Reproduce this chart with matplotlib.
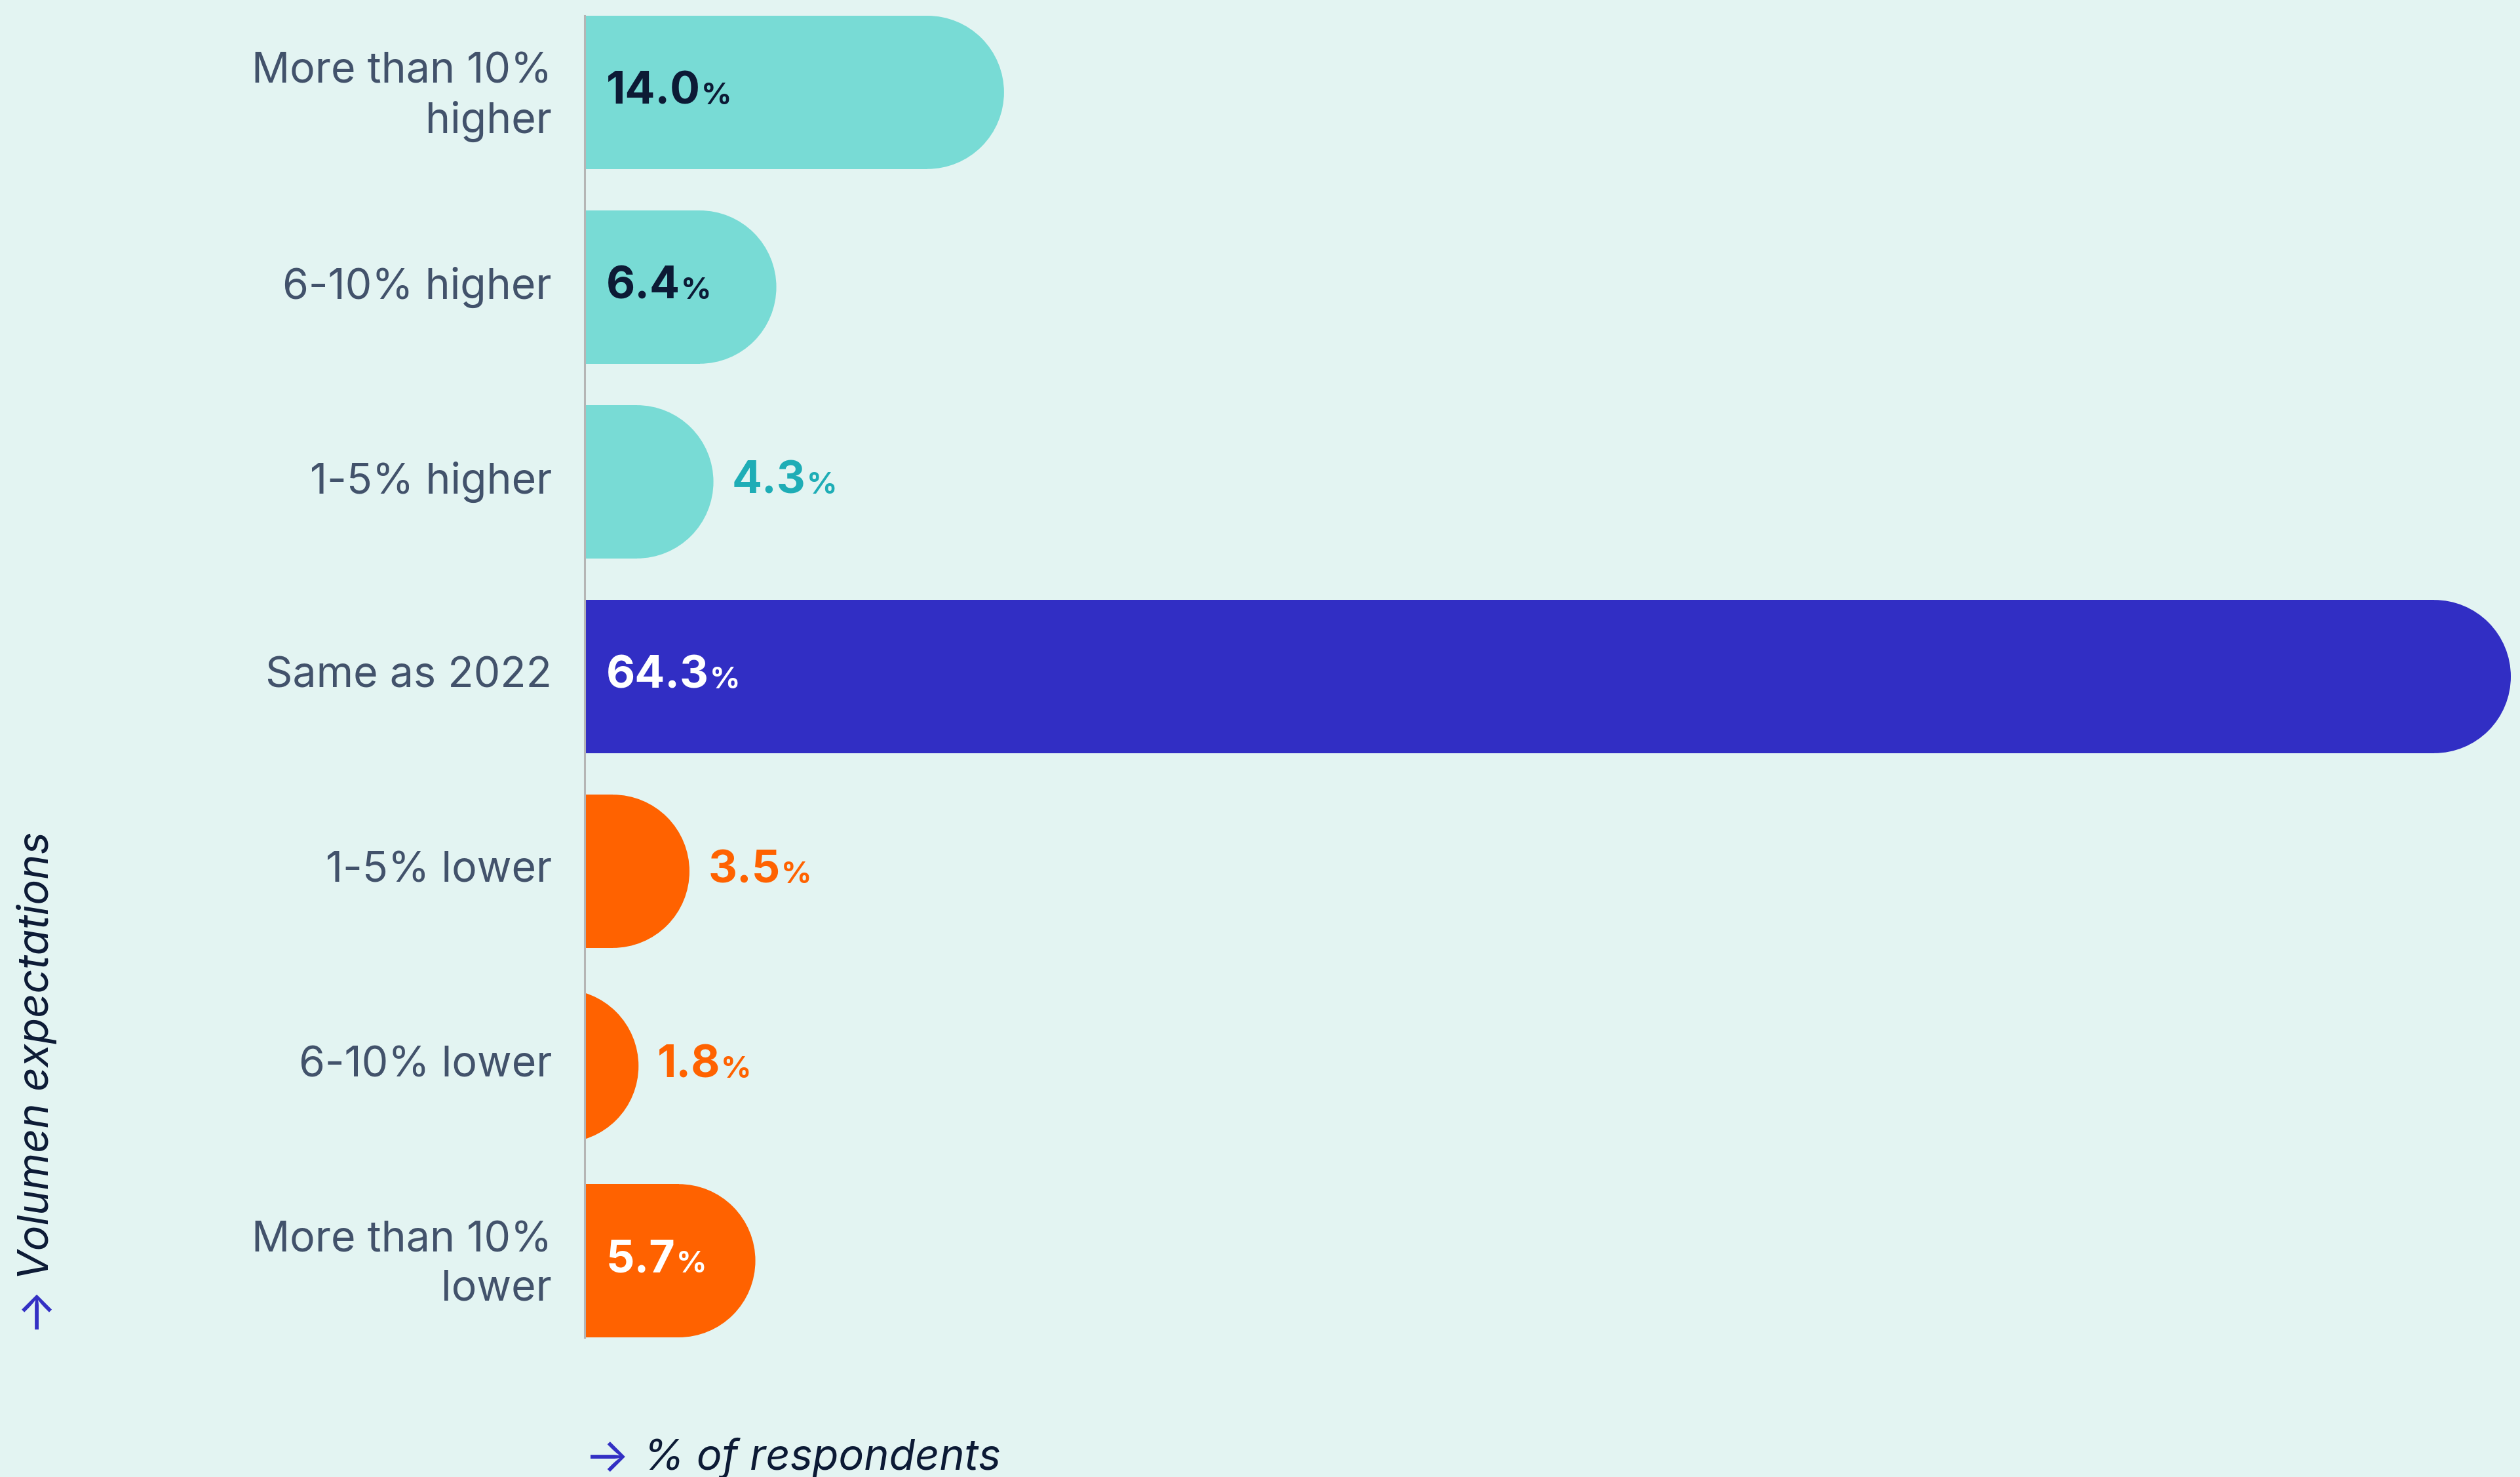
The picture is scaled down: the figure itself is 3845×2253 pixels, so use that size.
import matplotlib
matplotlib.use("Agg")
import matplotlib.pyplot as plt
from matplotlib.patches import Ellipse
from matplotlib.transforms import ScaledTranslation

categories = ["More than 10%\nhigher", "6-10% higher", "1-5% higher", "Same as 2022",
              "1-5% lower", "6-10% lower", "More than 10%\nlower"]
values = [14.0, 6.4, 4.3, 64.3, 3.5, 1.8, 5.7]
groups = ["up", "up", "up", "same", "down", "down", "down"]

BG = "#e3f4f2"
NAVY = "#0c1a35"
SLATE = "#42526b"
ARROW = "#3330c4"
bar_colors = {"up": "#78dbd5", "same": "#312ec4", "down": "#ff6200"}
inside_text = {"up": NAVY, "same": "white", "down": "white"}
outside_text = {"up": "#1eadb6", "same": "#312ec4", "down": "#ff6200"}

plt.rcParams["font.family"] = ["Inter", "DejaVu Sans"]

W, H, DPI = 3845, 2253, 200
fig = plt.figure(figsize=(W / DPI, H / DPI), dpi=DPI, facecolor=BG)
# axes placed in pixel terms: left spine at x=892, bars from y=24 to y=2040
ax_left, ax_w = 892, 2939
ax_top, ax_bottom = 24, 2040
ax = fig.add_axes([ax_left / W, (H - ax_bottom) / H, ax_w / W, (ax_bottom - ax_top) / H])
ax.set_facecolor(BG)

bar_h = 0.787
n = len(values)
ax.set_xlim(0, max(values))
ax.set_ylim(n - 1 + bar_h / 2, -bar_h / 2)

# rounded right ends: radius is half the bar height, converted to x units
px_per_x = ax_w / max(values)
px_per_y = (ax_bottom - ax_top) / (n - 1 + bar_h)
rx = (bar_h / 2) * px_per_y / px_per_x

for i, (v, g) in enumerate(zip(values, groups)):
    col = bar_colors[g]
    xc = v - rx
    ax.barh(i, max(xc, 0), height=bar_h, color=col, linewidth=0)
    ax.add_patch(Ellipse((xc, i), 2 * rx, bar_h, color=col, linewidth=0))

    if v >= 5:
        x_txt, col_txt = 0.72, inside_text[g]
    else:
        x_txt, col_txt = v + 0.62, outside_text[g]
    num = ax.text(x_txt, i + 0.06, f"{v:.1f}", ha="left", va="baseline",
                  fontsize=24.5, fontweight="bold", color=col_txt)
    ax.annotate("%", xy=(1, i + 0.06), xycoords=(num, "data"),
                xytext=(0.3, 0), textcoords="offset points",
                ha="left", va="baseline", fontsize=16.5, fontweight="bold",
                color=col_txt)

ax.set_yticks(range(n))
ax.set_yticklabels(categories, fontsize=23.2, color=SLATE, ha="right",
                   linespacing=1.3)
ax.tick_params(axis="y", length=0, pad=18)
nudge = ScaledTranslation(0, 2.5 / 72, fig.dpi_scale_trans)
for lbl in ax.get_yticklabels():
    lbl.set_transform(lbl.get_transform() + nudge)
ax.set_xticks([])
for s in ["top", "right", "bottom"]:
    ax.spines[s].set_visible(False)
ax.spines["left"].set_color("#b5b5b5")
ax.spines["left"].set_linewidth(1.1)
ax.spines["left"].set_zorder(5)

# axis titles with blue arrows
fig.text(926 / W, 1 - 2218 / H, "\u2192", color=ARROW, fontsize=26,
         ha="center", va="center_baseline")
fig.text(981 / W, 1 - 2242 / H, "% of respondents", color=NAVY, fontsize=23.3,
         style="italic", ha="left", va="baseline")
fig.text(56 / W, 1 - 2009 / H, "\u2191", color=ARROW, fontsize=26,
         ha="center", va="center")
fig.text(56 / W, 1 - 1952 / H, "Volumen expectations", color=NAVY, fontsize=23.3,
         style="italic", rotation=90, ha="center", va="bottom")

fig.savefig("out.png", dpi=DPI, facecolor=BG)
